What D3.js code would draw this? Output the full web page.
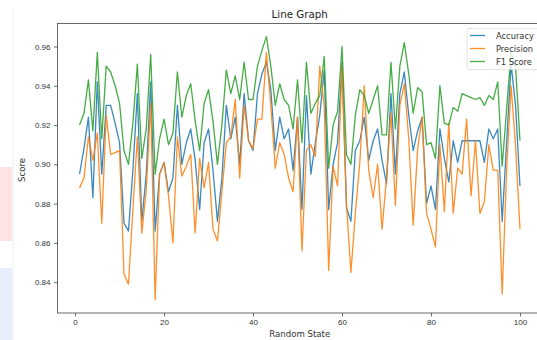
<!DOCTYPE html>
<html>
<head>
<meta charset="utf-8">
<script src="https://cdn.jsdelivr.net/npm/d3@7"></script>
<style>
  body { margin: 0; background: #fff; }
  svg { display: block; font-family: "DejaVu Sans", sans-serif; }
  .axis path, .axis line { stroke: #444; stroke-width: 0.8; }
  .axis text { fill: #333; font-size: 8px; }
</style>
</head>
<body>
<div id="chart"></div>
<script>
// random states 1..100
var states = d3.range(1, 101);

var accuracy = [
  0.895, 0.908, 0.924, 0.883, 0.942, 0.895, 0.930, 0.930, 0.921, 0.911,
  0.870, 0.866, 0.897, 0.936, 0.871, 0.895, 0.942, 0.866, 0.895, 0.901,
  0.886, 0.893, 0.930, 0.900, 0.911, 0.918, 0.902, 0.877, 0.911, 0.918,
  0.897, 0.871, 0.893, 0.930, 0.913, 0.924, 0.900, 0.936, 0.912, 0.907,
  0.936, 0.946, 0.952, 0.938, 0.907, 0.924, 0.913, 0.918, 0.897, 0.924,
  0.877, 0.935, 0.895, 0.911, 0.925, 0.948, 0.877, 0.900, 0.911, 0.952,
  0.878, 0.871, 0.907, 0.912, 0.924, 0.902, 0.912, 0.918, 0.902, 0.890,
  0.936, 0.895, 0.936, 0.947, 0.925, 0.907, 0.917, 0.924, 0.880, 0.889,
  0.877, 0.918, 0.903, 0.891, 0.912, 0.901, 0.912, 0.912, 0.912, 0.912,
  0.912, 0.901, 0.918, 0.913, 0.918, 0.871, 0.911, 0.951, 0.930, 0.889
];

var precision = [
  0.888, 0.893, 0.914, 0.902, 0.916, 0.870, 0.925, 0.905, 0.906, 0.907,
  0.844, 0.839, 0.877, 0.914, 0.865, 0.887, 0.931, 0.831, 0.895, 0.901,
  0.884, 0.860, 0.914, 0.894, 0.899, 0.905, 0.865, 0.903, 0.888, 0.901,
  0.867, 0.861, 0.886, 0.911, 0.914, 0.933, 0.893, 0.930, 0.912, 0.908,
  0.923, 0.923, 0.957, 0.930, 0.898, 0.911, 0.905, 0.893, 0.886, 0.924,
  0.856, 0.907, 0.910, 0.904, 0.950, 0.930, 0.846, 0.899, 0.889, 0.950,
  0.880, 0.845, 0.875, 0.901, 0.940, 0.897, 0.883, 0.900, 0.867, 0.893,
  0.926, 0.879, 0.930, 0.941, 0.913, 0.869, 0.908, 0.924, 0.875, 0.867,
  0.858, 0.910, 0.876, 0.921, 0.875, 0.898, 0.895, 0.923, 0.884, 0.912,
  0.875, 0.881, 0.910, 0.897, 0.897, 0.834, 0.897, 0.940, 0.910, 0.867
];

var f1 = [
  0.920, 0.926, 0.943, 0.917, 0.957, 0.913, 0.950, 0.947, 0.940, 0.931,
  0.907, 0.900, 0.921, 0.951, 0.903, 0.918, 0.956, 0.895, 0.913, 0.923,
  0.910, 0.916, 0.947, 0.924, 0.935, 0.941, 0.922, 0.907, 0.931, 0.938,
  0.922, 0.900, 0.920, 0.948, 0.936, 0.945, 0.933, 0.952, 0.933, 0.933,
  0.950, 0.958, 0.965, 0.950, 0.930, 0.941, 0.933, 0.930, 0.918, 0.943,
  0.911, 0.952, 0.926, 0.931, 0.935, 0.955, 0.898, 0.920, 0.927, 0.960,
  0.905, 0.900, 0.925, 0.938, 0.935, 0.926, 0.933, 0.940, 0.915, 0.915,
  0.952, 0.918, 0.950, 0.962, 0.946, 0.926, 0.939, 0.937, 0.910, 0.911,
  0.903, 0.940, 0.921, 0.920, 0.929, 0.927, 0.936, 0.935, 0.934, 0.933,
  0.934, 0.930, 0.935, 0.933, 0.942, 0.899, 0.928, 0.957, 0.950, 0.912
];

var seriesNames = ["Accuracy", "Precision", "F1 Score"];
var seriesColors = ["#1f77b4", "#ff7f0e", "#2ca02c"];
var xTicks = [0, 20, 40, 60, 80, 100];
var yTicks = [0.84, 0.86, 0.88, 0.90, 0.92, 0.94, 0.96];

var W = 537, H = 340;
// axes box runs past the right edge of the picture, like the reference
var margin = {top: 23.5, left: 57.5, right: 542, bottom: 313};

var svg = d3.select("#chart").append("svg")
  .attr("width", W)
  .attr("height", H);

// screenshot leftovers on the far left
svg.append("rect").attr("x", 0).attr("y", 167).attr("width", 12).attr("height", 74).attr("fill", "#fde3e3");
svg.append("rect").attr("x", 0).attr("y", 268).attr("width", 12).attr("height", 72).attr("fill", "#e8effc");
svg.append("line").attr("x1", 13).attr("x2", 13).attr("y1", 8).attr("y2", H)
  .attr("stroke", "#eee").attr("stroke-width", 1);

// Scales, with matplotlib's 5% padding
var allValues = accuracy.concat(precision, f1);
var yMin = d3.min(allValues), yMax = d3.max(allValues);
var yPad = (yMax - yMin) * 0.05;
var xPad = (d3.max(states) - d3.min(states)) * 0.05;

var xScale = d3.scaleLinear()
  .domain([d3.min(states) - xPad, d3.max(states) + xPad])
  .range([margin.left, margin.right]);
var yScale = d3.scaleLinear()
  .domain([yMin - yPad, yMax + yPad])
  .range([margin.bottom, margin.top]);

// Lines
var line = d3.line()
  .x(function(d) { return xScale(d[0]); })
  .y(function(d) { return yScale(d[1]); });

[accuracy, precision, f1].forEach(function(vals, k) {
  svg.append("path")
    .datum(states.map(function(s, i) { return [s, vals[i]]; }))
    .attr("fill", "none")
    .attr("stroke", seriesColors[k])
    .attr("stroke-width", 1.3)
    .attr("stroke-opacity", 0.88)
    .attr("stroke-linejoin", "round")
    .attr("d", line);
});

// Frame
svg.append("rect")
  .attr("x", margin.left).attr("y", margin.top)
  .attr("width", margin.right - margin.left)
  .attr("height", margin.bottom - margin.top)
  .attr("fill", "none")
  .attr("stroke", "#444")
  .attr("stroke-width", 0.8);

// Axes
var xAxis = svg.append("g")
  .attr("class", "axis")
  .attr("transform", "translate(0," + margin.bottom + ")")
  .call(d3.axisBottom(xScale).tickValues(xTicks).tickSize(3.5).tickPadding(3));
var yAxis = svg.append("g")
  .attr("class", "axis")
  .attr("transform", "translate(" + margin.left + ",0)")
  .call(d3.axisLeft(yScale).tickValues(yTicks).tickFormat(d3.format(".2f")).tickSize(3.5).tickPadding(3.5));
xAxis.select(".domain").remove();
yAxis.select(".domain").remove();

// Titles
svg.append("text")
  .attr("x", (margin.left + margin.right) / 2)
  .attr("y", 18)
  .attr("text-anchor", "middle")
  .attr("font-size", 10.3)
  .attr("fill", "#222")
  .text("Line Graph");
svg.append("text")
  .attr("x", (margin.left + margin.right) / 2)
  .attr("y", 337)
  .attr("text-anchor", "middle")
  .attr("font-size", 8.6)
  .attr("fill", "#333")
  .text("Random State");
svg.append("text")
  .attr("transform", "translate(25,170) rotate(-90)")
  .attr("text-anchor", "middle")
  .attr("font-size", 8.6)
  .attr("fill", "#333")
  .text("Score");

// Legend
var legend = svg.append("g").attr("transform", "translate(467,28.5)");
legend.append("rect")
  .attr("width", 80).attr("height", 41)
  .attr("rx", 2)
  .attr("fill", "#fff").attr("fill-opacity", 0.8)
  .attr("stroke", "#ddd").attr("stroke-width", 0.8);
seriesNames.forEach(function(name, k) {
  var y = 7 + k * 13;
  legend.append("line")
    .attr("x1", 3).attr("x2", 18).attr("y1", y).attr("y2", y)
    .attr("stroke", seriesColors[k]).attr("stroke-width", 1.3)
    .attr("stroke-opacity", 0.88);
  legend.append("text")
    .attr("x", 29).attr("y", y + 3)
    .attr("font-size", 8.3)
    .attr("fill", "#333")
    .text(name);
});
</script>
</body>
</html>
